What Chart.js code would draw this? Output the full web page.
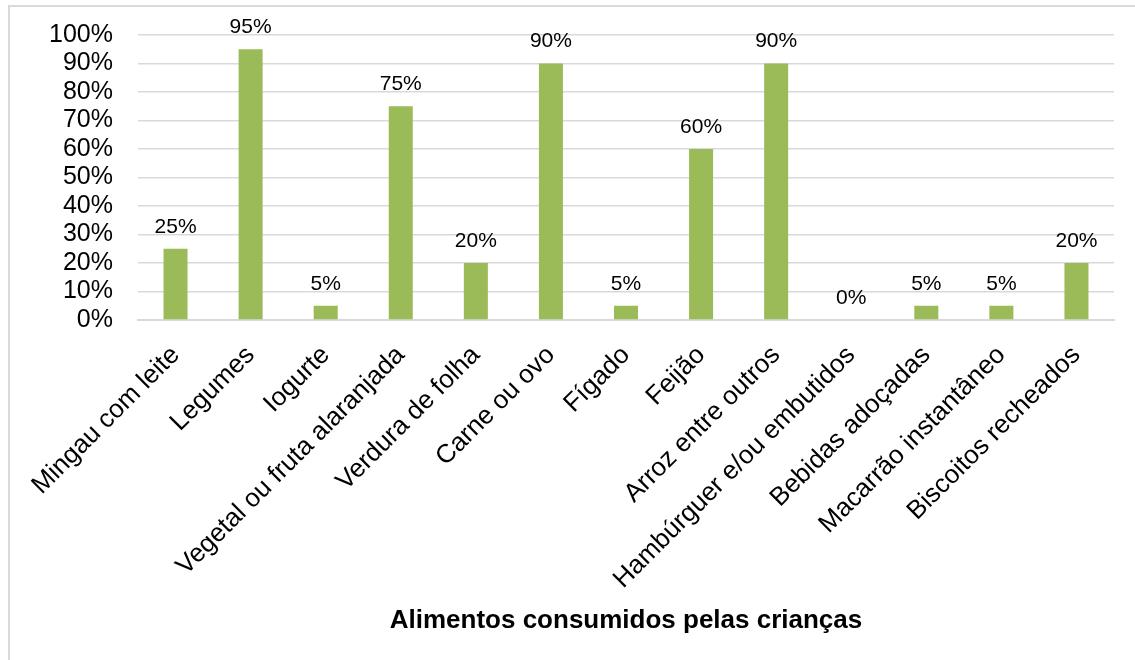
<!DOCTYPE html>
<html lang="pt">
<head>
    <meta charset="UTF-8">
    <title>Alimentos consumidos pelas crianças</title>
    <script src="https://cdn.jsdelivr.net/npm/chart.js"></script>
    <style>
        html, body { margin: 0; padding: 0; background: #fff; }
        #wrap { width: 1135px; height: 660px; }
    </style>
</head>
<body>
    <div id="wrap"><canvas id="grafico" width="1135" height="660"></canvas></div>
    <script>
        // dados
        const alimentos = [
            'Mingau com leite', 'Legumes', 'Iogurte', 'Vegetal ou fruta alaranjada',
            'Verdura de folha', 'Carne ou ovo', 'Fígado', 'Feijão', 'Arroz entre outros',
            'Hambúrguer e/ou embutidos', 'Bebidas adoçadas', 'Macarrão instantâneo',
            'Biscoitos recheados'
        ];
        const percentuais = [25, 95, 5, 75, 20, 90, 5, 60, 90, 0, 5, 5, 20];
        const tituloEixo = 'Alimentos consumidos pelas crianças';

        const fonte = 'Liberation Sans, Arial, sans-serif';

        // moldura cinza em volta do gráfico
        const moldura = {
            id: 'moldura',
            beforeDraw(chart) {
                const ctx = chart.ctx;
                ctx.save();
                ctx.strokeStyle = '#d9d9d9';
                ctx.lineWidth = 2;
                ctx.strokeRect(9, 6, chart.width + 20, chart.height + 20);
                ctx.restore();
            }
        };

        // rótulos de valor acima das barras
        const rotulos = {
            id: 'rotulos',
            afterDatasetsDraw(chart) {
                const ctx = chart.ctx;
                const meta = chart.getDatasetMeta(0);
                ctx.save();
                ctx.font = '21px ' + fonte;
                ctx.fillStyle = '#000';
                ctx.textAlign = 'center';
                ctx.textBaseline = 'middle';
                meta.data.forEach((bar, i) => {
                    ctx.fillText(percentuais[i] + '%', bar.x, bar.y - 22);
                });
                ctx.restore();
            }
        };

        new Chart(document.getElementById('grafico'), {
            type: 'bar',
            data: {
                labels: alimentos,
                datasets: [{
                    data: percentuais,
                    backgroundColor: '#9bbb59',
                    categoryPercentage: 1,
                    barPercentage: 0.32
                }]
            },
            options: {
                responsive: false,
                animation: false,
                layout: { padding: { top: 30, right: 21, left: 0, bottom: 0 } },
                plugins: {
                    legend: { display: false },
                    tooltip: { enabled: false }
                },
                scales: {
                    x: {
                        grid: { display: false },
                        border: { color: '#d9d9d9', width: 2 },
                        ticks: {
                            color: '#000',
                            font: { family: fonte, size: 26 },
                            maxRotation: 45,
                            minRotation: 45,
                            autoSkip: false,
                            padding: 12
                        },
                        title: {
                            display: true,
                            text: tituloEixo,
                            color: '#000',
                            font: { family: fonte, size: 26, weight: 'bold' },
                            padding: { top: 0, bottom: 24 }
                        },
                        afterFit(scale) { scale.height = 340; }
                    },
                    y: {
                        min: 0,
                        max: 100,
                        grid: { color: '#d9d9d9', lineWidth: 1.5, drawTicks: false },
                        border: { display: false },
                        ticks: {
                            stepSize: 10,
                            autoSkip: false,
                            color: '#000',
                            font: { family: fonte, size: 25, lineHeight: 0.8 },
                            padding: 25,
                            callback: v => v + '%'
                        },
                        afterFit(scale) { scale.width = 138; }
                    }
                }
            },
            plugins: [moldura, rotulos]
        });
    </script>
</body>
</html>
